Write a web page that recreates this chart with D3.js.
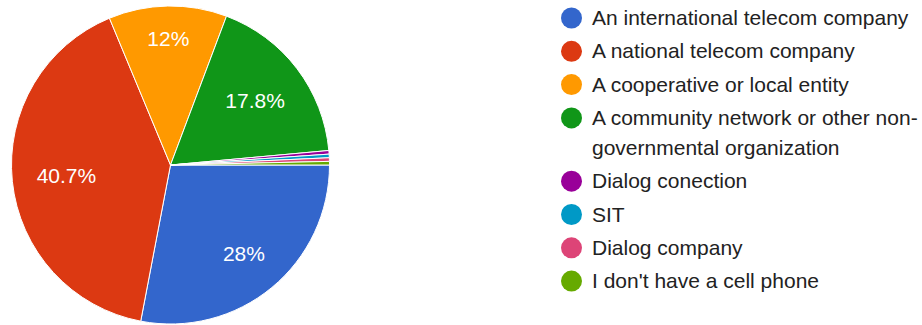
<!DOCTYPE html>
<html>
<head>
<meta charset="utf-8">
<script src="https://cdn.jsdelivr.net/npm/d3@7"></script>
<style>
  html, body { margin: 0; padding: 0; background: #fff; }
  svg { display: block; font-family: Arial, "Liberation Sans", sans-serif; }
</style>
</head>
<body>
<svg id="chart" width="922" height="325"></svg>
<script>
// Survey answers: who provides your mobile service (response counts)
const categories = [
  "An international telecom company",
  "A national telecom company",
  "A cooperative or local entity",
  "A community network or other non-governmental organization",
  "Dialog conection",
  "SIT",
  "Dialog company",
  "I don't have a cell phone"
];
const counts = [77, 112, 33, 49, 1, 1, 1, 1];
const colors = ["#3366cc", "#dc3912", "#ff9900", "#109618", "#990099", "#0099c6", "#dd4477", "#66aa00"];

const W = 922, H = 325;
const svg = d3.select("#chart");

const cx = 170.5, cy = 165, R = 159;
const total = d3.sum(counts);
const data = categories.map((c, i) => ({ name: c, value: counts[i], color: colors[i] }));

const pie = d3.pie()
  .value(d => d.value)
  .sort(null)
  .startAngle(Math.PI / 2)
  .endAngle(Math.PI / 2 + 2 * Math.PI);

const arc = d3.arc().innerRadius(0).outerRadius(R);
const arcs = pie(data);

const g = svg.append("g").attr("transform", `translate(${cx},${cy})`);

g.selectAll("path.slice")
  .data(arcs)
  .join("path")
  .attr("class", "slice")
  .attr("d", arc)
  .attr("fill", d => d.data.color)
  .attr("stroke", "#fff")
  .attr("stroke-width", 1);

// percentage labels for slices large enough to hold them
const fmt = v => {
  const p = Math.round(v / total * 1000) / 10;
  return (p % 1 === 0 ? p.toFixed(0) : p.toFixed(1)) + "%";
};
const labelled = arcs.filter(a => a.data.value / total > 0.05);
const labels = g.selectAll("text.pct")
  .data(labelled)
  .join("text")
  .attr("class", "pct")
  .attr("fill", "#fff")
  .attr("font-size", 21)
  .attr("text-anchor", "middle")
  .attr("dy", "0.35em")
  .text(d => fmt(d.data.value));

// push each label outward until its box reaches a fixed fraction of the radius
labels.each(function(d) {
  const bb = this.getBBox();
  const hw = bb.width / 2, hh = 8.5;
  const a = (d.startAngle + d.endAngle) / 2;
  const sx = Math.sin(a), sy = -Math.cos(a);
  const r = 0.85 * R - (hw * Math.abs(sx) + hh * Math.abs(sy));
  d3.select(this).attr("x", r * sx).attr("y", r * sy);
});

// legend
const legX = 571.5, textX = 592, maxW = 330;
const rowGap = 33.3, lineGap = 30;
const leg = svg.append("g");
let y = 18;

function wrapLines(str, node) {
  // words, with a break allowed right after a hyphen
  const tokens = str.match(/[^\s-]+-?/g);
  const lines = [];
  let cur = "";
  tokens.forEach(t => {
    const sep = cur === "" || cur.endsWith("-") ? "" : " ";
    const test = cur + sep + t;
    node.text(test);
    if (node.node().getComputedTextLength() > maxW && cur !== "") {
      lines.push(cur);
      cur = t;
    } else {
      cur = test;
    }
  });
  if (cur) lines.push(cur);
  return lines;
}

data.forEach(d => {
  leg.append("circle")
    .attr("cx", legX).attr("cy", y).attr("r", 10.5)
    .attr("fill", d.color);
  const t = leg.append("text")
    .attr("x", textX).attr("y", y + 7)
    .attr("font-size", 21)
    .attr("fill", "#222");
  const lines = wrapLines(d.name, t);
  t.text(null);
  lines.forEach((ln, i) => {
    t.append("tspan").attr("x", textX).attr("dy", i === 0 ? 0 : lineGap).text(ln);
  });
  y += rowGap + (lines.length - 1) * lineGap;
});
</script>
</body>
</html>
